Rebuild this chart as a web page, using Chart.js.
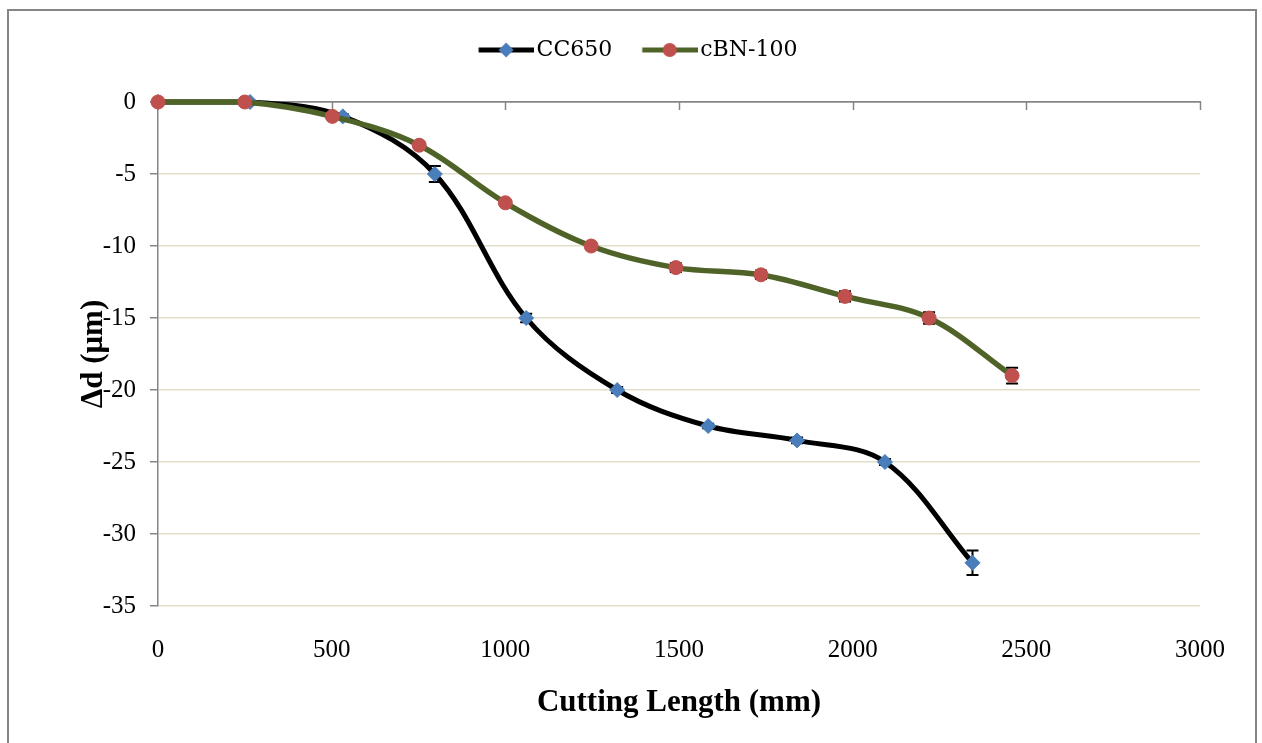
<!DOCTYPE html>
<html>
<head>
<meta charset="utf-8">
<script src="https://cdn.jsdelivr.net/npm/chart.js@4.4.0/dist/chart.umd.min.js"></script>
<style>
  body { margin: 0; background: #fff; }
  canvas { display: block; }
</style>
</head>
<body>
<canvas id="wear" width="1262" height="743"></canvas>
<script>
// CC650 insert
var ccLength = [0, 265, 532, 797, 1060, 1322, 1584, 1840, 2093, 2345];
var ccDepth  = [0, 0, -1, -5, -15, -20, -22.5, -23.5, -25, -32];
var ccErr    = [0, 0, 0.15, 0.55, 0.3, 0.2, 0.15, 0.2, 0.2, 0.85];

// cBN-100 insert
var cbnLength = [0, 250, 502, 752, 1000, 1247, 1491, 1736, 1978, 2220, 2459];
var cbnDepth  = [0, 0, -1, -3, -7, -10, -11.5, -12, -13.5, -15, -19];
var cbnErr    = [0, 0, 0.15, 0.2, 0.2, 0.2, 0.3, 0.3, 0.35, 0.4, 0.55];

var seriesNames = ['CC650', 'cBN-100'];
var xTicks = [0, 500, 1000, 1500, 2000, 2500, 3000];

var serif = "'Liberation Serif', 'Times New Roman', serif";
var axisGrey = '#868686';

function toPoints(xs, ys) {
  return xs.map(function (x, i) { return { x: x, y: ys[i] }; });
}

// line + marker swatch for the legend; blank strip on the left keeps the
// gap to the previous entry, the line runs right up to its label
function legendMark(lineColor, shape, fill) {
  var c = document.createElement('canvas');
  c.width = 78; c.height = 18;
  var g = c.getContext('2d');
  var x0 = 22.5, cx = 50;
  g.strokeStyle = lineColor;
  g.lineWidth = 5;
  g.beginPath(); g.moveTo(x0, 9); g.lineTo(78, 9); g.stroke();
  g.fillStyle = fill;
  g.beginPath();
  if (shape === 'diamond') {
    g.moveTo(cx, 1.5); g.lineTo(cx + 7.5, 9); g.lineTo(cx, 16.5); g.lineTo(cx - 7.5, 9); g.closePath();
  } else {
    g.arc(cx, 9, 7, 0, Math.PI * 2);
  }
  g.fill();
  return c;
}
var legendMarks = [legendMark('#000000', 'diamond', '#4a7ebb'), legendMark('#4f6228', 'circle', '#c0504d')];

var frame = {
  id: 'frame',
  beforeDraw: function (chart) {
    var ctx = chart.ctx;
    ctx.save();
    ctx.fillStyle = '#fff';
    ctx.fillRect(0, 0, chart.width, chart.height);
    ctx.strokeStyle = axisGrey;
    ctx.lineWidth = 2;
    ctx.strokeRect(8, 10, 1248, 800);
    ctx.restore();
  }
};

// the horizontal axis sits at y = 0 (top of the plot), ticks hang below it
var topTicks = {
  id: 'topTicks',
  beforeDatasetsDraw: function (chart) {
    var ctx = chart.ctx, x = chart.scales.x, y = chart.scales.y;
    var y0 = y.getPixelForValue(0);
    ctx.save();
    ctx.strokeStyle = axisGrey;
    ctx.lineWidth = 1.5;
    xTicks.slice(1).forEach(function (v) {
      var px = Math.round(x.getPixelForValue(v)) + 0.5;
      ctx.beginPath(); ctx.moveTo(px, y0); ctx.lineTo(px, y0 + 8); ctx.stroke();
    });
    ctx.restore();
  }
};

var errorSets = [ccErr, cbnErr];
var errorBars = {
  id: 'errorBars',
  beforeDatasetDraw: function (chart, args) {
    var i = args.index, errs = errorSets[i];
    var ds = chart.data.datasets[i];
    var x = chart.scales.x, y = chart.scales.y, ctx = chart.ctx;
    ctx.save();
    ctx.strokeStyle = '#000';
    ctx.lineWidth = 2;
    ds.data.forEach(function (p, k) {
      var e = errs[k];
      if (!e) return;
      var px = x.getPixelForValue(p.x);
      var top = y.getPixelForValue(p.y + e), bot = y.getPixelForValue(p.y - e);
      ctx.beginPath();
      ctx.moveTo(px, top); ctx.lineTo(px, bot);
      ctx.moveTo(px - 6, top); ctx.lineTo(px + 6, top);
      ctx.moveTo(px - 6, bot); ctx.lineTo(px + 6, bot);
      ctx.stroke();
    });
    ctx.restore();
  }
};

new Chart(document.getElementById('wear'), {
  type: 'line',
  data: {
    datasets: [{
      label: seriesNames[0],
      data: toPoints(ccLength, ccDepth),
      borderColor: '#000000',
      borderWidth: 5,
      tension: 0.35,
      pointStyle: 'rectRot',
      pointRadius: 7.5,
      pointBackgroundColor: '#4a7ebb',
      pointBorderColor: '#4a7ebb',
      pointBorderWidth: 1,
      fill: false,
      clip: false,
      order: 1
    }, {
      label: seriesNames[1],
      data: toPoints(cbnLength, cbnDepth),
      borderColor: '#4f6228',
      borderWidth: 5.5,
      tension: 0.35,
      pointStyle: 'circle',
      pointRadius: 7,
      pointBackgroundColor: '#c0504d',
      pointBorderColor: '#c0504d',
      pointBorderWidth: 1,
      fill: false,
      clip: false,
      order: 0
    }]
  },
  options: {
    responsive: false,
    animation: false,
    devicePixelRatio: 1,
    layout: { padding: { top: 23, left: 0, right: 0, bottom: 0 } },
    plugins: {
      tooltip: { enabled: false },
      legend: {
        position: 'top',
        labels: {
          usePointStyle: true,
          pointStyleWidth: 61,
          padding: 16,
          color: '#000',
          font: { family: "'DejaVu Serif', serif", size: 22 },
          generateLabels: function (chart) {
            return chart.data.datasets.map(function (ds, i) {
              return {
                text: ds.label,
                pointStyle: legendMarks[i],
                datasetIndex: i,
                hidden: false,
                fontColor: '#000',
                lineWidth: 0,
                strokeStyle: 'rgba(0,0,0,0)',
                fillStyle: 'rgba(0,0,0,0)'
              };
            });
          }
        }
      }
    },
    scales: {
      x: {
        type: 'linear',
        position: 'bottom',
        min: 0, max: 3000,
        afterBuildTicks: function (s) { s.ticks = xTicks.map(function (v) { return { value: v }; }); },
        ticks: {
          color: '#000', font: { family: serif, size: 25 }, padding: 21, maxRotation: 0,
          callback: function (v) { return String(v); }
        },
        grid: { display: false },
        border: { display: false },
        title: {
          display: true, text: 'Cutting Length (mm)', color: '#000',
          font: { family: serif, size: 31, weight: 'bold' },
          padding: { top: 4, bottom: 21 }
        },
        afterFit: function (s) { s.height = 137; }
      },
      // axis line along value 0, across the top of the plot
      x2: {
        type: 'linear',
        position: 'top',
        min: 0, max: 3000,
        ticks: { display: false },
        grid: { display: false },
        border: { color: axisGrey, width: 1.5 },
        afterFit: function (s) { s.height = 31; }
      },
      y: {
        min: -35, max: 0,
        ticks: { stepSize: 5, color: '#000', font: { family: serif, size: 25 }, padding: 14 },
        grid: {
          color: function (c) { return c.tick && c.tick.value === 0 ? axisGrey : '#e3dec9'; },
          lineWidth: 1.5,
          tickColor: axisGrey,
          tickLength: 8
        },
        border: { color: axisGrey, width: 1.5 },
        title: {
          display: true, text: 'Δd (μm)', color: '#000',
          font: { family: serif, size: 31, weight: 'bold' },
          padding: { top: 75, bottom: 0 }
        },
        afterFit: function (s) { s.width = 158; }
      },
      // empty margin on the right of the plot
      yRight: {
        type: 'linear',
        position: 'right',
        min: -35, max: 0,
        ticks: { display: false },
        grid: { display: false },
        border: { display: false },
        afterFit: function (s) { s.width = 62; }
      }
    }
  },
  plugins: [frame, topTicks, errorBars]
});
</script>
</body>
</html>
